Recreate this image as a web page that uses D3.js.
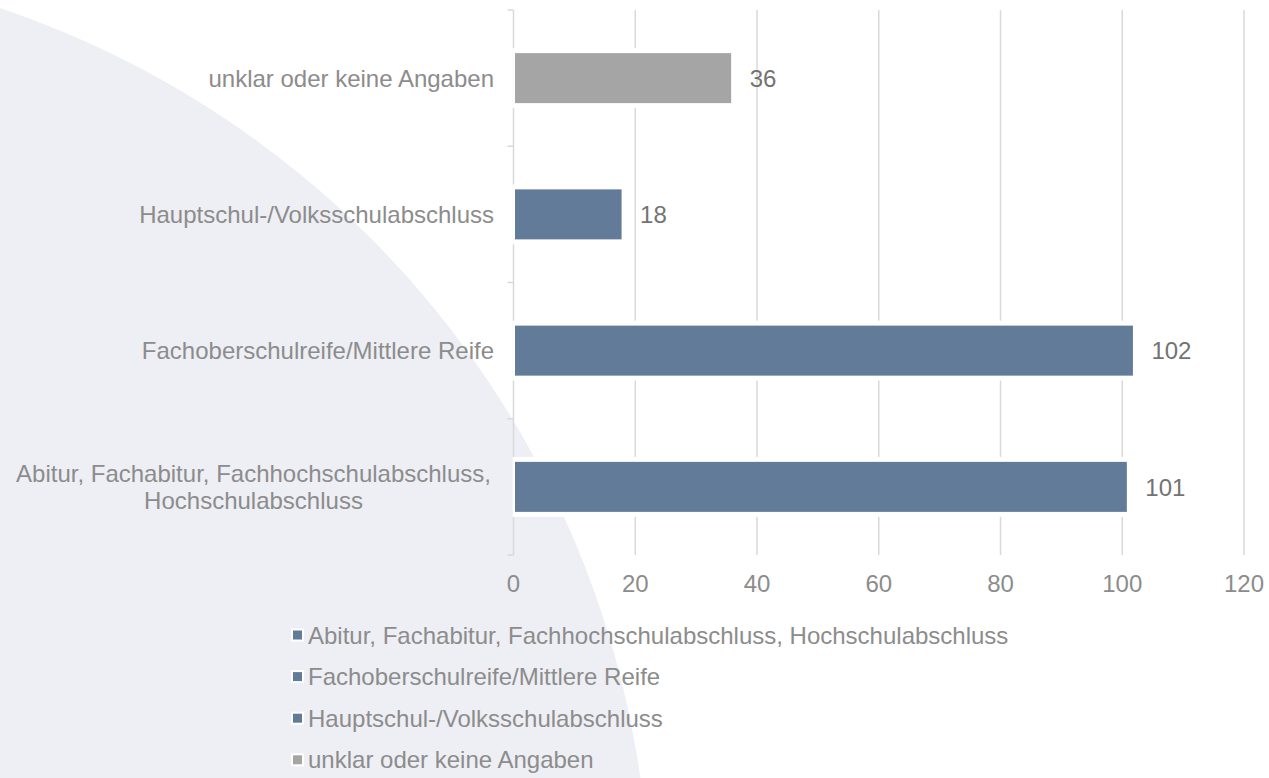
<!DOCTYPE html>
<html>
<head>
<meta charset="utf-8">
<script src="https://cdn.jsdelivr.net/npm/d3@7"></script>
<style>
  body { margin: 0; background: #fff; }
  svg { display: block; font-family: "Liberation Sans", Arial, sans-serif; }
</style>
</head>
<body>
<div id="chart"></div>
<script>
// data (Excel order: first category is drawn at the bottom)
const categories = [
  'Abitur, Fachabitur, Fachhochschulabschluss, Hochschulabschluss',
  'Fachoberschulreife/Mittlere Reife',
  'Hauptschul-/Volksschulabschluss',
  'unklar oder keine Angaben'
]
const values = [101, 102, 18, 36]
const barColors = ['#627b98', '#627b98', '#627b98', '#a5a5a5']
const xTicks = [0, 20, 40, 60, 80, 100, 120]

const width = 1269, height = 778
const svg = d3.select('#chart').append('svg')
  .attr('width', width)
  .attr('height', height)

// big soft circle in the background
svg.append('circle')
  .attr('cx', -305)
  .attr('cy', 913)
  .attr('r', 955)
  .attr('fill', '#eeeff5')

const plotTop = 10, plotBottom = 555
const xScale = d3.scaleLinear()
  .domain([0, 120])
  .range([513.5, 1244])
const yScale = d3.scaleBand()
  .domain(categories.slice().reverse())
  .range([plotTop, plotBottom])
  .padding(0)

const grid = '#d9d9d9'

// vertical gridlines
svg.selectAll('.grid')
  .data(xTicks.filter(d => d > 0))
  .enter()
  .append('line')
  .attr('x1', d => xScale(d))
  .attr('x2', d => xScale(d))
  .attr('y1', plotTop)
  .attr('y2', plotBottom)
  .attr('stroke', grid)
  .attr('stroke-width', 1.5)

// category axis line + small ticks at band edges
svg.append('line')
  .attr('x1', xScale(0)).attr('x2', xScale(0))
  .attr('y1', plotTop).attr('y2', plotBottom)
  .attr('stroke', grid).attr('stroke-width', 1.5)
const edges = categories.map(c => yScale(c)).concat([plotBottom])
svg.selectAll('.ytick')
  .data(edges)
  .enter()
  .append('line')
  .attr('x1', xScale(0) - 6).attr('x2', xScale(0))
  .attr('y1', d => d).attr('y2', d => d)
  .attr('stroke', grid).attr('stroke-width', 1.5)

// bars
const barH = 50
const cy = c => yScale(c) + yScale.bandwidth() / 2
const rows = categories.map((c, i) => ({ cat: c, value: values[i], color: barColors[i] }))

svg.selectAll('.halo')
  .data(rows)
  .enter()
  .append('rect')
  .attr('x', xScale(0) - 1)
  .attr('y', d => cy(d.cat) - barH / 2 - 5)
  .attr('width', d => xScale(d.value) - xScale(0) + 5)
  .attr('height', barH + 10)
  .attr('fill', '#fff')

svg.selectAll('.bar')
  .data(rows)
  .enter()
  .append('rect')
  .attr('x', xScale(0) + 1.5)
  .attr('y', d => cy(d.cat) - barH / 2)
  .attr('width', d => xScale(d.value) - xScale(0) - 3)
  .attr('height', barH)
  .attr('fill', d => d.color)

// value labels
svg.selectAll('.val')
  .data(rows)
  .enter()
  .append('text')
  .attr('x', d => xScale(d.value) + 17)
  .attr('y', d => cy(d.cat))
  .attr('dy', '0.36em')
  .attr('font-size', 24)
  .attr('fill', '#737373')
  .text(d => d.value)

// category labels, wrapped when too wide
const labels = svg.selectAll('.cat')
  .data(rows)
  .enter()
  .append('text')
  .attr('font-size', 24)
  .attr('fill', '#8c8c8c')
  .text(d => d.cat)

labels.each(function (d) {
  const t = d3.select(this)
  if (this.getComputedTextLength() <= 485) {
    t.attr('x', 494).attr('y', cy(d.cat)).attr('dy', '0.36em').attr('text-anchor', 'end')
    return
  }
  const words = d.cat.split(' ')
  const line1 = words.slice(0, -1).join(' ')
  const line2 = words[words.length - 1]
  t.text(null).attr('text-anchor', 'middle')
  t.append('tspan').attr('x', 253.5).attr('y', cy(d.cat) - 13.8).attr('dy', '0.36em').text(line1)
  t.append('tspan').attr('x', 253.5).attr('y', cy(d.cat) + 13.8).attr('dy', '0.36em').text(line2)
})

// x tick labels
svg.selectAll('.xt')
  .data(xTicks)
  .enter()
  .append('text')
  .attr('x', d => xScale(d))
  .attr('y', 592)
  .attr('text-anchor', 'middle')
  .attr('font-size', 24)
  .attr('fill', '#8c8c8c')
  .text(d => d)

// legend
const legend = svg.selectAll('.leg')
  .data(rows)
  .enter()
  .append('g')
  .attr('transform', (d, i) => `translate(293, ${635 + i * 41.6})`)
legend.append('rect')
  .attr('x', -2).attr('y', -6.5)
  .attr('width', 13).attr('height', 13)
  .attr('fill', '#fff')
legend.append('rect')
  .attr('x', 0).attr('y', -4.5)
  .attr('width', 9).attr('height', 9)
  .attr('fill', d => d.color)
legend.append('text')
  .attr('x', 15)
  .attr('dy', '0.36em')
  .attr('font-size', 24)
  .attr('fill', '#8c8c8c')
  .text(d => d.cat)
</script>
</body>
</html>
